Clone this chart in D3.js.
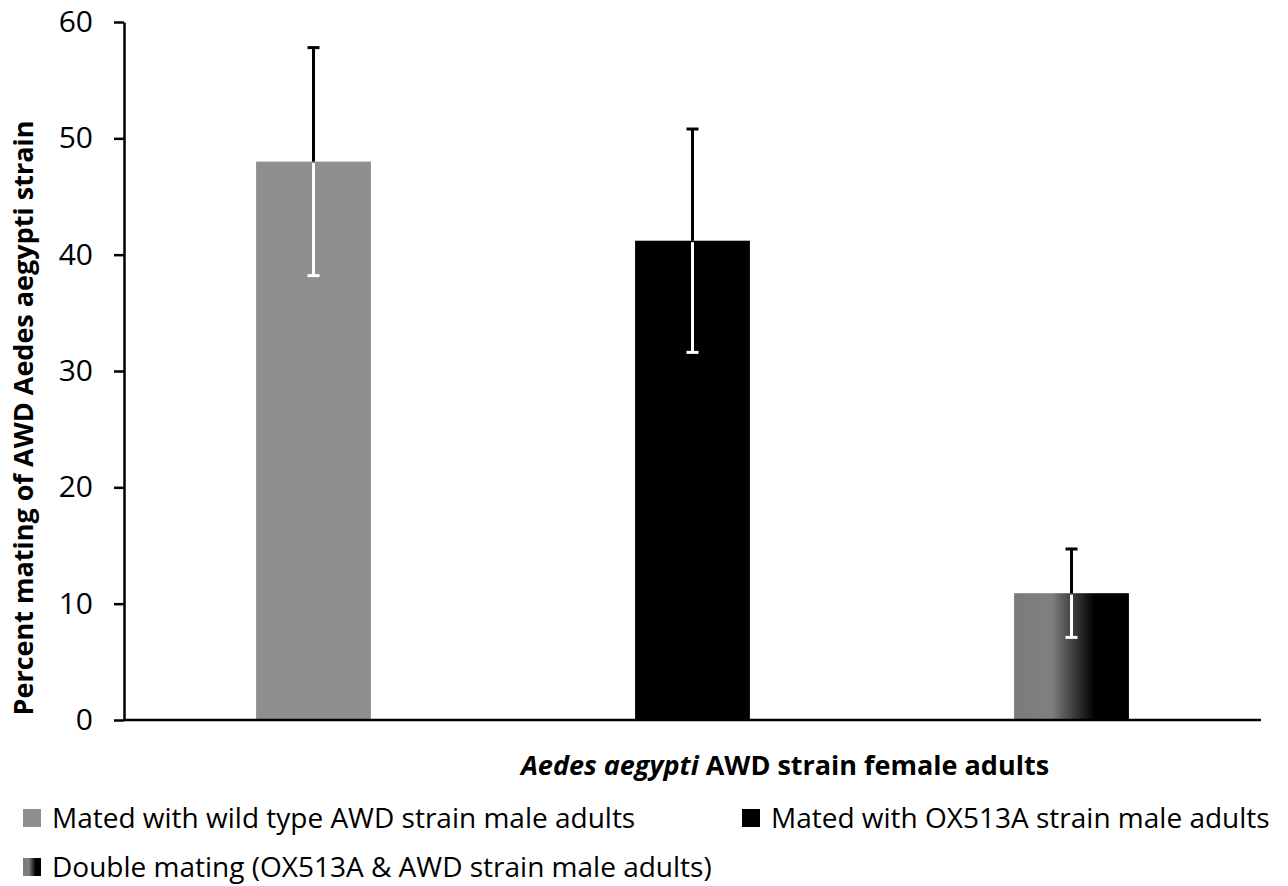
<!DOCTYPE html>
<html>
<head>
<meta charset="utf-8">
<script src="https://cdn.jsdelivr.net/npm/d3@7"></script>
<style>
  body { margin: 0; background: #fff; }
  text { font-family: "Open Sans", sans-serif; fill: #000; }
  .tickLabel { font-size: 30px; }
  .aTitle { font-size: 27px; font-weight: bold; }
  .legendText { font-size: 28px; }
</style>
</head>
<body>
<div id="chart"></div>
<script>
// data
var groups = ["Mated with wild type AWD strain male adults",
              "Mated with OX513A strain male adults",
              "Double mating (OX513A & AWD strain male adults)"];
var means = [48.0, 41.2, 10.9];
var errors = [9.8, 9.6, 3.8];
var yTicks = [0, 10, 20, 30, 40, 50, 60];

var svgWidth = 1288;
var svgHeight = 886;
var margin = { top: 22, right: 27, bottom: 166, left: 124 };
var width = svgWidth - margin.left - margin.right;
var height = svgHeight - margin.top - margin.bottom;

var svg = d3.select("#chart")
    .append("svg")
    .attr("width", svgWidth)
    .attr("height", svgHeight);

// gradient for the double mating bar
var defs = svg.append("defs");
var grad = defs.append("linearGradient")
    .attr("id", "dblGrad")
    .attr("x1", "0%").attr("x2", "100%")
    .attr("y1", "0%").attr("y2", "0%");
[[0, "#7b7b7b"], [0.33, "#808080"], [0.38, "#6c6c6c"], [0.55, "#333"], [0.7, "#000"], [1, "#000"]]
    .forEach(function(s) {
        grad.append("stop").attr("offset", s[0]).attr("stop-color", s[1]);
    });

var fills = ["#8f8f8f", "#000000", "url(#dblGrad)"];

var chartGroup = svg.append("g")
    .attr("transform", `translate(${margin.left}, ${margin.top})`);

var data = groups.map(function(g, i) {
    return { group: g, mean: means[i], err: errors[i], fill: fills[i] };
});

var xScale = d3.scaleBand()
    .domain(groups)
    .range([0, width])
    .paddingInner(0.697)
    .paddingOuter(0.3485);

var yScale = d3.scaleLinear()
    .domain([0, 60])
    .range([height, 0]);

// y axis
var leftAxis = d3.axisLeft(yScale)
    .tickValues(yTicks)
    .tickSize(10)
    .tickPadding(21)
    .tickSizeOuter(0);

var yAxis = chartGroup.append("g").call(leftAxis);
yAxis.attr("font-size", null).attr("font-family", null);
yAxis.select(".domain").attr("stroke", "#000").attr("stroke-width", 2.5);
yAxis.selectAll(".tick line").attr("stroke", "#000").attr("stroke-width", 2.5);
yAxis.selectAll(".tick text")
    .attr("class", "tickLabel")
    .attr("fill", "#000");

// bars
chartGroup.selectAll("rect.bar")
    .data(data)
    .enter()
    .append("rect")
    .attr("class", "bar")
    .attr("x", d => xScale(d.group))
    .attr("y", d => yScale(d.mean))
    .attr("width", xScale.bandwidth())
    .attr("height", d => height - yScale(d.mean))
    .attr("fill", d => d.fill);

// x axis line (no ticks)
chartGroup.append("line")
    .attr("x1", 0)
    .attr("x2", width)
    .attr("y1", height)
    .attr("y2", height)
    .attr("stroke", "#000")
    .attr("stroke-width", 2.5);

// error bars: black above the bar, white inside it
var capHalf = 6;
var errGroup = chartGroup.selectAll("g.err")
    .data(data)
    .enter()
    .append("g")
    .attr("class", "err");

function cx(d) { return xScale(d.group) + xScale.bandwidth() / 2; }

errGroup.append("line")
    .attr("x1", cx).attr("x2", cx)
    .attr("y1", d => yScale(d.mean))
    .attr("y2", d => yScale(d.mean + d.err))
    .attr("stroke", "#000").attr("stroke-width", 3);
errGroup.append("line")
    .attr("x1", d => cx(d) - capHalf).attr("x2", d => cx(d) + capHalf)
    .attr("y1", d => yScale(d.mean + d.err))
    .attr("y2", d => yScale(d.mean + d.err))
    .attr("stroke", "#000").attr("stroke-width", 3);
errGroup.append("line")
    .attr("x1", cx).attr("x2", cx)
    .attr("y1", d => yScale(d.mean) + 1.5)
    .attr("y2", d => yScale(d.mean - d.err))
    .attr("stroke", "#fff").attr("stroke-width", 3);
errGroup.append("line")
    .attr("x1", d => cx(d) - capHalf).attr("x2", d => cx(d) + capHalf)
    .attr("y1", d => yScale(d.mean - d.err))
    .attr("y2", d => yScale(d.mean - d.err))
    .attr("stroke", "#fff").attr("stroke-width", 3);

// axis titles
chartGroup.append("text")
    .attr("transform", "rotate(-90)")
    .attr("x", -396)
    .attr("y", 0 - margin.left + 33)
    .attr("text-anchor", "middle")
    .classed("aTitle", true)
    .text("Percent mating of AWD Aedes aegypti strain");

var xTitle = chartGroup.append("text")
    .attr("x", 661)
    .attr("y", height + 55)
    .attr("text-anchor", "middle")
    .classed("aTitle", true);
xTitle.append("tspan").style("font-style", "italic").text("Aedes aegypti");
xTitle.append("tspan").text(" AWD strain female adults");

// legend
var legendPos = [[23, 818], [742, 818], [23, 867]];
var legend = svg.selectAll("g.legend")
    .data(data)
    .enter()
    .append("g")
    .attr("class", "legend")
    .attr("transform", (d, i) => `translate(${legendPos[i][0]}, ${legendPos[i][1]})`);

legend.append("rect")
    .attr("x", 0)
    .attr("y", -9)
    .attr("width", 18)
    .attr("height", 18)
    .attr("fill", d => d.fill);

legend.append("text")
    .attr("x", 29)
    .attr("y", 0)
    .attr("dy", "0.35em")
    .classed("legendText", true)
    .text(d => d.group);
</script>
</body>
</html>
